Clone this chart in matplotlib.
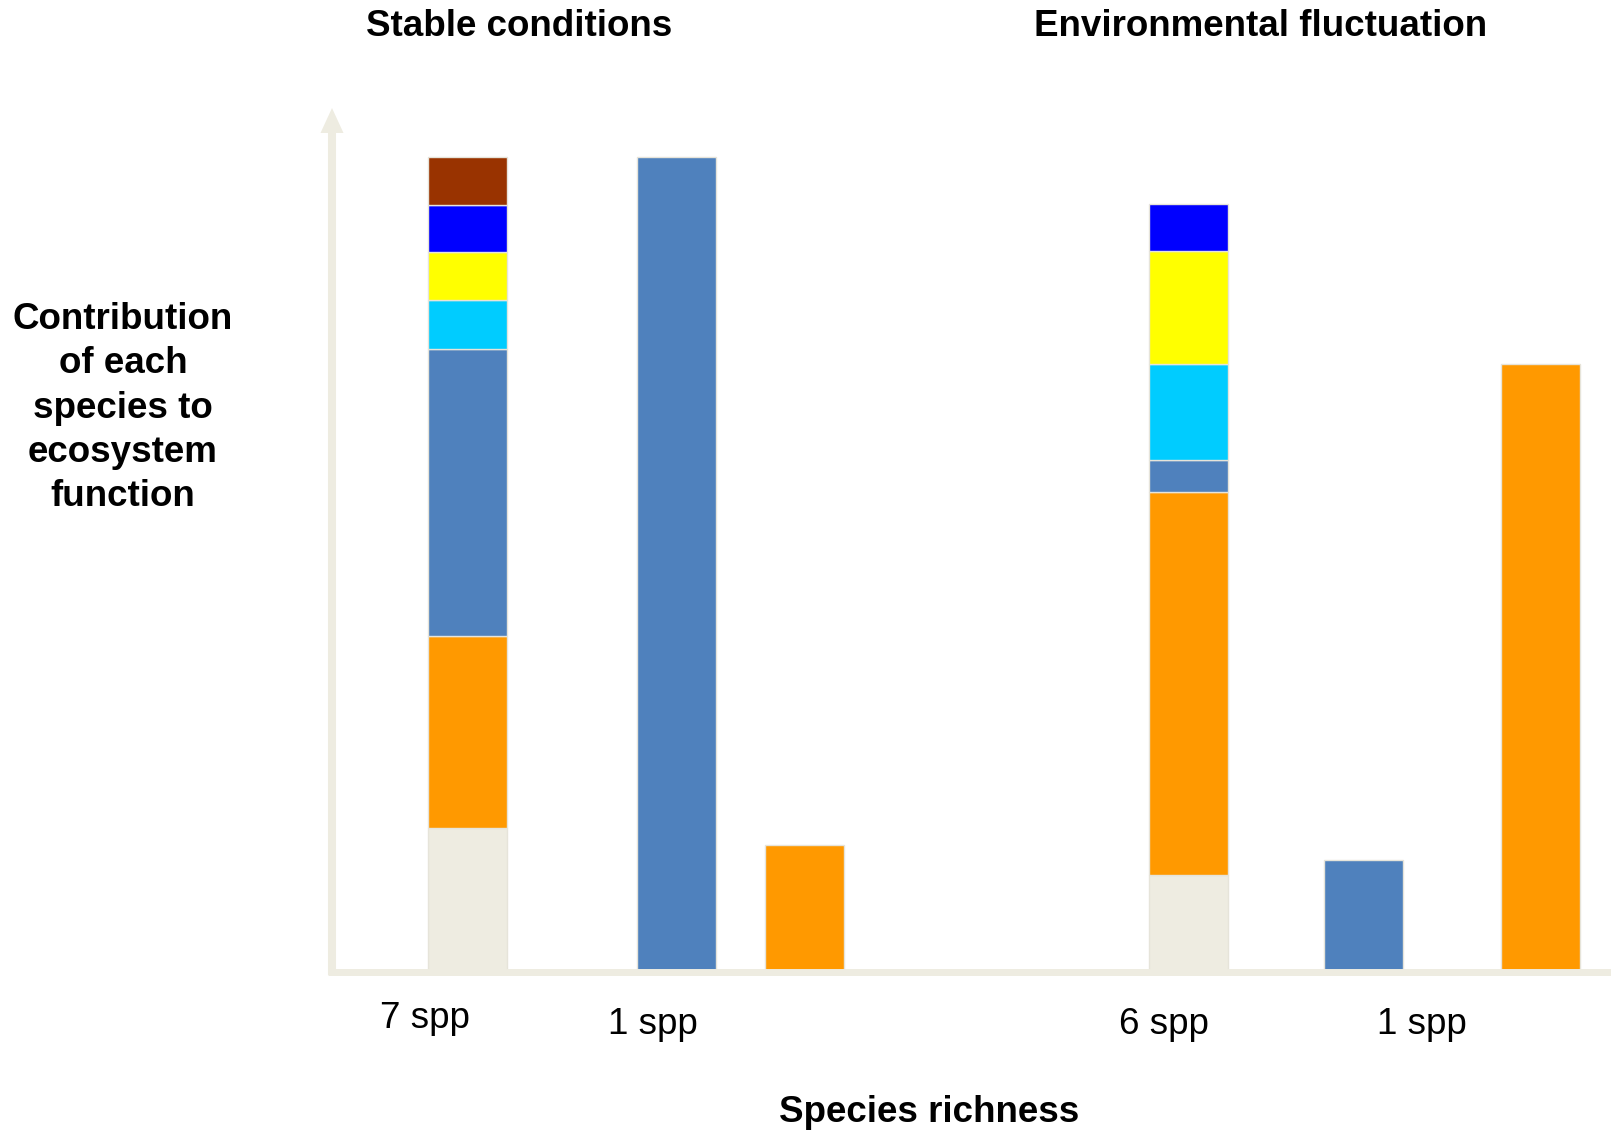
import matplotlib
matplotlib.use("Agg")
import matplotlib.pyplot as plt
from matplotlib.lines import Line2D
from matplotlib.patches import Polygon
from matplotlib.transforms import IdentityTransform, blended_transform_factory

plt.rcParams['font.family'] = ['Liberation Sans', 'DejaVu Sans']

# ---- data (contribution of each species, arbitrary units; tallest = 100) ----
species = ["sp_gray", "sp_orange", "sp_steel", "sp_cyan", "sp_yellow", "sp_blue", "sp_brown"]
colors = ["#EEECE1", "#FF9900", "#4F81BD", "#00CCFF", "#FFFF00", "#0000FF", "#993300"]

stable_7spp = [17.6, 23.5, 35.3, 6.0, 5.9, 5.8, 5.9]
stable_1spp_steel = [0, 0, 100.0, 0, 0, 0, 0]
stable_1spp_orange = [0, 15.5, 0, 0, 0, 0, 0]
fluct_6spp = [11.8, 47.1, 3.9, 11.8, 13.8, 5.8, 0]
fluct_1spp_steel = [0, 0, 13.6, 0, 0, 0, 0]
fluct_1spp_orange = [0, 74.6, 0, 0, 0, 0, 0]

bars = [stable_7spp, stable_1spp_steel, stable_1spp_orange,
        fluct_6spp, fluct_1spp_steel, fluct_1spp_orange]

tick_labels = ["7 spp", "1 spp", "6 spp", "1 spp"]
panel_titles = ["Stable conditions", "Environmental fluctuation"]
ylabel = "Contribution\nof each\nspecies to\necosystem\nfunction"
xlabel = "Species richness"

# ---- layout ----
W, H = 1611, 1131
bar_x = [1.72, 4.36, 5.98, 10.84, 13.06, 15.30]
tick_x = [1.18, 4.06, 10.53, 13.80]
tick_y = [1018, 1025, 1025, 1025]   # pixel rows (from top)
axis_color = "#EEECE1"

fig = plt.figure(figsize=(W / 100, H / 100), dpi=100)
ax_left, ax_bottom, ax_top = 332, 971, 157
ax = fig.add_axes([ax_left / W, (H - ax_bottom) / H, (W - ax_left) / W, (ax_bottom - ax_top) / H])
ax.set_xlim(0, (W - ax_left) / 79.0)
ax.set_ylim(0, 100)
ax.axis("off")

for x, vals in zip(bar_x, bars):
    bottom = 0
    for v, c in zip(vals, colors):
        if v > 0:
            ax.bar(x, v, width=1.0, bottom=bottom, color=c, edgecolor="#E6E4DA",
                   linewidth=1.0, zorder=3, clip_on=False)
        bottom += v

# axes drawn in pixel coordinates
ident = IdentityTransform()
def py(y):
    return H - y

fig.add_artist(Line2D([332, 332], [py(975), py(130)], color=axis_color, linewidth=5.8,
                      transform=ident, zorder=1, solid_capstyle="butt"))
fig.add_artist(Line2D([328, W], [py(972), py(972)], color=axis_color, linewidth=5.0,
                      transform=ident, zorder=1, solid_capstyle="butt"))
fig.add_artist(Polygon([[320.5, py(133)], [343.5, py(133)], [332, py(108)]], closed=True,
                       facecolor=axis_color, edgecolor="none", transform=ident, zorder=1))

fs = 26.5
tr = blended_transform_factory(ax.transData, fig.transFigure)
for x, y, lab in zip(tick_x, tick_y, tick_labels):
    ax.text(x, py(y) / H, lab, transform=tr, ha="center", va="center", fontsize=fs)

fig.text(929 / W, py(1112) / H, xlabel, ha="center", va="center", fontsize=fs, fontweight="bold")
fig.text(519 / W, py(26) / H, panel_titles[0], ha="center", va="center", fontsize=fs, fontweight="bold")
fig.text(1261 / W, py(26) / H, panel_titles[1], ha="center", va="center", fontsize=fs, fontweight="bold")
fig.text(123 / W, py(408) / H, ylabel, ha="center", va="center", fontsize=fs, fontweight="bold",
         linespacing=1.34, multialignment="center")

fig.savefig("out.png", dpi=100, facecolor="white")
